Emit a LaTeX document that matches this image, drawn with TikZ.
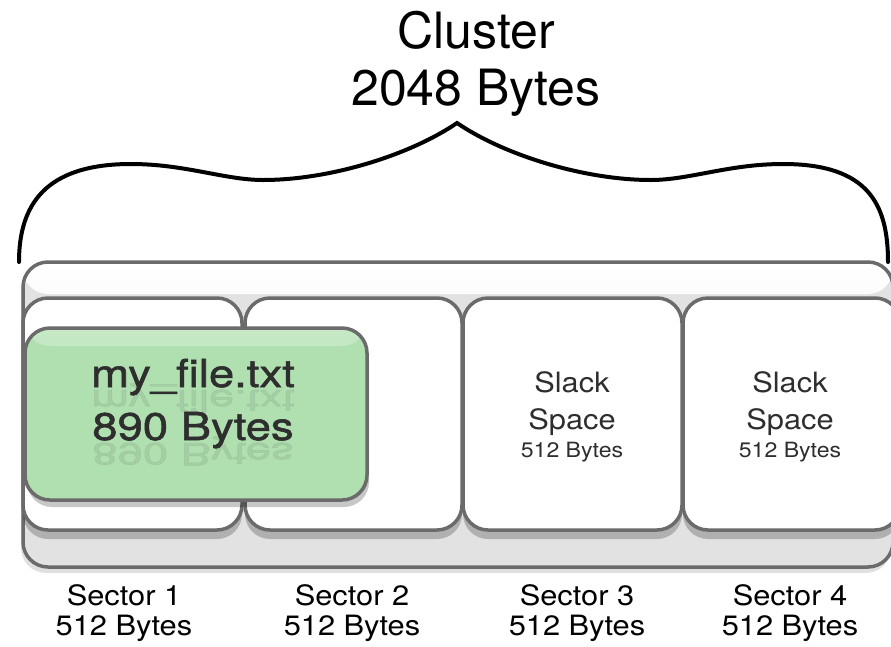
\documentclass[tikz,border=0pt]{standalone}
\usepackage{fontspec}
\setmainfont{TeX Gyre Heros}
\newfontfamily\fileFont[FakeStretch=1.18,FakeBold=1.4]{TeX Gyre Heros}
\newfontfamily\wideFont[FakeStretch=1.1]{TeX Gyre Heros}
\usetikzlibrary{shadows}
\definecolor{bordergray}{HTML}{6B6B6B}
\definecolor{clusterfill}{HTML}{E2E2E2}
\definecolor{filegreen}{HTML}{B0DFB0}
\definecolor{filegreenlight}{HTML}{C6E8C6}
\definecolor{textdark}{HTML}{2E2E2E}
\tikzset{
  boxbase/.style={draw=bordergray, line width=3.5pt, rounded corners=25pt, inner sep=0pt},
  outerbox/.style={boxbase, fill=clusterfill,
    drop shadow={shadow xshift=-2pt, shadow yshift=-6pt, opacity=0.12, fill=black},
    path picture={\fill[top color=white, bottom color=clusterfill]
      (path picture bounding box.north west) rectangle ([yshift=-32pt]path picture bounding box.north east);}},
  sectorbox/.style={boxbase, fill=white, text=textdark, align=center,
    drop shadow={shadow xshift=0pt, shadow yshift=-9pt, opacity=0.22, fill=black}},
  filebox/.style={boxbase, fill=filegreen,
    drop shadow={shadow xshift=2pt, shadow yshift=-7pt, opacity=0.22, fill=black},
    path picture={\fill[top color=filegreenlight, bottom color=filegreen]
      (path picture bounding box.north west) rectangle ([yshift=-18pt]path picture bounding box.north east);}},
  bracestyle/.style={line width=4pt, line cap=round, line join=miter, black},
  titletext/.style={align=center, font=\fontsize{50}{57}\selectfont, anchor=base, inner sep=0pt},
  labeltext/.style={align=center, font=\wideFont\fontsize{28}{30}\selectfont, anchor=base, inner sep=0pt},
  filetext/.style={align=center, text=textdark, font=\fileFont\fontsize{38.5}{53}\selectfont, anchor=base, inner sep=0pt},
  reflecttext/.style={filetext, opacity=0.09},
  slacktext/.style={align=center, text=textdark, font=\wideFont\fontsize{28}{37}\selectfont, anchor=base, inner sep=0pt},
}
\begin{document}
\begin{tikzpicture}[x=1pt, y=-1pt]
\useasboundingbox (0,0) rectangle (891,646);
\clip (0,0) rectangle (891,646);

% title (anchor base = baseline of last line)
\node[titletext] (title) at (476,105) {Cluster\\2048 Bytes};

% brace
\coordinate (bl) at (19,262);
\coordinate (tip) at (457,123);
\coordinate (br) at (888,262);
\draw[bracestyle] (bl) .. controls (19,205) and (45,164) .. (131,164)
  .. controls (185,164) and (225,180) .. (263,180)
  .. controls (330,180) and (410,155) .. (tip)
  .. controls (504,155) and (584,180) .. (651,180)
  .. controls (689,180) and (729,164) .. (783,164)
  .. controls (869,164) and (888,205) .. (br);

% cluster box
\node[outerbox, minimum width=870pt, minimum height=305pt] (cluster) at (458,414.5) {};

% sectors
\node[sectorbox, minimum width=219pt, minimum height=232pt] (s1) at (132.5,414) {};
\node[sectorbox, minimum width=217pt, minimum height=232pt] (s2) at (353.5,414) {};
\node[sectorbox, minimum width=219pt, minimum height=232pt] (s3) at (572.5,414) {};
\node[sectorbox, minimum width=217pt, minimum height=232pt] (s4) at (791.5,414) {};

\node[slacktext] (s3t) at (572,457) {Slack\\Space\\[-9pt]{\fontsize{21}{24}\selectfont 512 Bytes}};
\node[slacktext] (s4t) at (790,457) {Slack\\Space\\[-9pt]{\fontsize{21}{24}\selectfont 512 Bytes}};

% file
\node[filebox, minimum width=342pt, minimum height=172pt] (file) at (196,414) {};
\node[reflecttext] (fileref1) at (193,390) {\scalebox{1}[-0.8]{my\_file.txt}};
\node[reflecttext] (fileref2) at (193,443) {\scalebox{1}[-0.8]{890 Bytes}};
\node[filetext] (filet) at (193,440) {my\_file.txt\\890 Bytes};

% labels
\node[labeltext] (l1) at (124,635) {Sector 1\\512 Bytes};
\node[labeltext] (l2) at (352,635) {Sector 2\\512 Bytes};
\node[labeltext] (l3) at (577,635) {Sector 3\\512 Bytes};
\node[labeltext] (l4) at (790,635) {Sector 4\\512 Bytes};
\end{tikzpicture}
\end{document}
